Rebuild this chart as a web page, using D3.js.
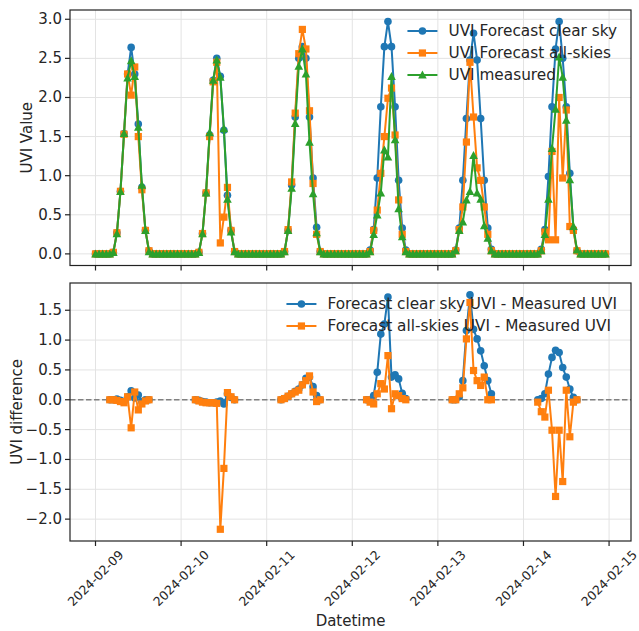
<html>
<head>
<style>
  body { margin: 0; background: #fff; }
  svg { display: block; font-family: "DejaVu Sans", sans-serif; }
</style>
</head>
<body>
<svg id="chart"></svg>
<script src="https://d3js.org/d3.v7.min.js"></script>
<script>
    // ---- data (hourly, UTC) ----
    var days = ["2024-02-09", "2024-02-10", "2024-02-11", "2024-02-12", "2024-02-13", "2024-02-14"];
    // daylight hours for the UVI panel, night values are 0
    var topHours = [4, 5, 6, 7, 8, 9, 10, 11, 12, 13, 14, 15, 16];
    var clearSky = [
        [0, 0.02, 0.27, 0.80, 1.54, 2.30, 2.64, 2.30, 1.66, 0.85, 0.30, 0.04, 0],
        [0, 0.02, 0.26, 0.78, 1.52, 2.22, 2.50, 2.27, 1.58, 0.75, 0.30, 0.03, 0],
        [0, 0.03, 0.30, 0.88, 1.75, 2.50, 2.65, 2.50, 1.75, 0.97, 0.34, 0.03, 0],
        [0, 0.05, 0.31, 0.97, 1.88, 2.65, 2.97, 2.65, 1.88, 0.94, 0.33, 0.05, 0],
        [0, 0.05, 0.33, 0.94, 1.73, 2.48, 2.82, 2.48, 1.73, 0.94, 0.33, 0.06, 0],
        [0, 0.06, 0.31, 0.99, 1.88, 2.62, 2.97, 2.50, 1.88, 1.03, 0.31, 0.04, 0]
    ];
    var allSkies = [
        [0, 0.02, 0.27, 0.80, 1.53, 2.30, 2.03, 2.39, 1.50, 0.82, 0.30, 0.04, 0],
        [0, 0.02, 0.26, 0.78, 1.50, 2.20, 2.45, 0.14, 0.47, 0.85, 0.30, 0.03, 0],
        [0, 0.03, 0.31, 0.92, 1.80, 2.56, 2.87, 2.62, 1.83, 0.90, 0.25, 0.03, 0],
        [0, 0.03, 0.30, 0.56, 1.03, 1.50, 1.99, 2.12, 1.52, 0.69, 0.25, 0.03, 0],
        [0, 0.04, 0.31, 0.60, 1.43, 2.45, 1.75, 1.10, 0.94, 0.60, 0.25, 0.04, 0],
        [0, 0.04, 0.28, 0.18, 1.31, 0.18, 2.00, 0.97, 1.84, 0.35, 0.30, 0.04, 0]
    ];
    var measured = [
        [0, 0.02, 0.26, 0.80, 1.54, 2.25, 2.47, 2.27, 1.62, 0.88, 0.30, 0.03, 0],
        [0, 0.02, 0.26, 0.78, 1.55, 2.22, 2.48, 2.26, 1.60, 0.70, 0.28, 0.03, 0],
        [0, 0.03, 0.30, 0.84, 1.67, 2.40, 2.62, 2.30, 1.43, 0.77, 0.27, 0.03, 0],
        [0, 0.03, 0.25, 0.50, 0.78, 1.33, 1.24, 2.27, 1.46, 0.58, 0.22, 0.03, 0],
        [0, 0.04, 0.30, 0.41, 0.69, 0.80, 1.26, 0.78, 0.70, 0.36, 0.20, 0.04, 0],
        [0, 0.04, 0.25, 0.70, 1.35, 1.85, 2.52, 2.26, 1.71, 0.95, 0.35, 0.05, 0]
    ];
    // difference panel only has daytime points
    var diffHours = [4, 5, 6, 7, 8, 9, 10, 11, 12, 13, 14, 15];
    var clearDiff = [
        [0, 0, 0.01, -0.01, -0.03, 0.05, 0.15, 0.03, 0.08, -0.03, 0, 0],
        [0, -0.01, -0.03, -0.04, -0.05, -0.05, -0.04, -0.02, -0.07, 0.10, 0.04, 0],
        [0, 0.02, 0.06, 0.10, 0.14, 0.18, 0.25, 0.36, 0.38, 0.22, 0.07, 0],
        [0, 0, 0.07, 0.46, 1.10, 1.27, 1.72, 0.38, 0.42, 0.35, 0.11, 0.02],
        [0, 0, 0.05, 0.32, 1.16, 1.76, 1.18, 1.02, 0.82, 0.57, 0.32, 0.10],
        [0, 0.02, 0.10, 0.43, 0.71, 0.83, 0.79, 0.54, 0.38, 0.18, 0.04, 0]
    ];
    var allDiff = [
        [0, 0, -0.01, -0.03, -0.05, 0.05, -0.47, 0.13, -0.17, -0.07, -0.02, 0],
        [0, -0.02, -0.04, -0.05, -0.05, -0.05, -0.06, -2.17, -1.15, 0.12, 0.05, 0],
        [0, 0.02, 0.06, 0.10, 0.13, 0.16, 0.25, 0.32, 0.40, 0.13, -0.03, 0],
        [0, -0.04, -0.07, 0.10, 0.27, 0.18, 0.74, -0.15, 0.10, 0.07, 0.02, 0],
        [0, 0, 0.10, 0.20, 1.02, 1.63, 0.49, 0.32, 0.24, 0.38, 0, 0],
        [-0.04, -0.20, -0.29, 0.16, -0.51, -1.62, -0.51, -1.37, 0.16, -0.62, -0.04, 0]
    ];
    var topTicks = [0, 0.5, 1.0, 1.5, 2.0, 2.5, 3.0];
    var bottomTicks = [-2.0, -1.5, -1.0, -0.5, 0, 0.5, 1.0, 1.5];

    var C = {blue: "#1f77b4", orange: "#ff7f0e", green: "#2ca02c"};

    var width = 639, height = 631;
    var left = 70, right = 631;
    var top1 = 10, bot1 = 265.5, top2 = 283, bot2 = 541;
    var fs = 15, fsLeg = 15.3, fsDate = 12.5;

    var svg = d3.select("#chart").attr("width", width).attr("height", height);

    function dayStart(i) {
        var p = days[i].split("-");
        return Date.UTC(+p[0], +p[1] - 1, +p[2]);
    }

    // full hourly series with zeros at night
    function hourly(rows) {
        var out = [];
        days.forEach(function(d, i) {
            for (var h = 0; h < 24; h++) {
                var k = topHours.indexOf(h);
                out.push({t: new Date(dayStart(i) + h * 3600e3), v: k < 0 ? 0 : rows[i][k]});
            }
        });
        return out;
    }
    // daytime-only series with gaps between days
    function daytime(rows) {
        var out = [];
        days.forEach(function(d, i) {
            diffHours.forEach(function(h, k) {
                out.push({t: new Date(dayStart(i) + h * 3600e3), v: rows[i][k]});
            });
            out.push({t: new Date(dayStart(i) + 23 * 3600e3), v: null});
        });
        return out;
    }

    var sClear = hourly(clearSky), sAll = hourly(allSkies), sMeas = hourly(measured);
    var dClear = daytime(clearDiff), dAll = daytime(allDiff);

    // matplotlib style 5% margins
    function pad(ext) { var m = (ext[1] - ext[0]) * 0.05; return [ext[0] - m, ext[1] + m]; }

    var tExt = d3.extent(sClear, function(d) { return d.t; });
    var tPad = pad([+tExt[0], +tExt[1]]);
    var x = d3.scaleUtc().domain([new Date(tPad[0]), new Date(tPad[1])]).range([left, right]);

    var topVals = sClear.concat(sAll, sMeas).map(function(d) { return d.v; });
    var y1 = d3.scaleLinear().domain(pad(d3.extent(topVals))).range([bot1, top1]);
    var botVals = dClear.concat(dAll).filter(function(d) { return d.v != null; }).map(function(d) { return d.v; });
    var y2 = d3.scaleLinear().domain(pad(d3.extent(botVals))).range([bot2, top2]);

    var xTicks = d3.utcDay.range(new Date(dayStart(0)), new Date(dayStart(5) + 2 * 864e5));
    var fmtTick = function(v) { return v < 0 ? "\u2212" + Math.abs(v).toFixed(1) : v.toFixed(1); };

    function drawAxes(y, yTicks, yt, yb, label, labelX) {
        var g = svg.append("g");
        // grid
        g.selectAll(".gx").data(xTicks).enter().append("line")
            .attr("x1", function(d) { return x(d); }).attr("x2", function(d) { return x(d); })
            .attr("y1", yt).attr("y2", yb)
            .attr("stroke", "#e3e3e3").attr("stroke-width", 1);
        g.selectAll(".gy").data(yTicks).enter().append("line")
            .attr("x1", left).attr("x2", right)
            .attr("y1", function(d) { return y(d); }).attr("y2", function(d) { return y(d); })
            .attr("stroke", "#e3e3e3").attr("stroke-width", 1);
        // ticks
        g.selectAll(".tx").data(xTicks).enter().append("line")
            .attr("x1", function(d) { return x(d); }).attr("x2", function(d) { return x(d); })
            .attr("y1", yb).attr("y2", yb + 5)
            .attr("stroke", "#222").attr("stroke-width", 1.2);
        g.selectAll(".ty").data(yTicks).enter().append("line")
            .attr("x1", left - 5).attr("x2", left)
            .attr("y1", function(d) { return y(d); }).attr("y2", function(d) { return y(d); })
            .attr("stroke", "#222").attr("stroke-width", 1.2);
        g.selectAll(".ly").data(yTicks).enter().append("text")
            .attr("x", left - 8).attr("y", function(d) { return y(d); })
            .attr("text-anchor", "end").attr("dominant-baseline", "central")
            .attr("font-size", fs).attr("fill", "#262626")
            .text(fmtTick);
        svg.append("text")
            .attr("transform", "translate(" + labelX + "," + ((yt + yb) / 2) + ") rotate(-90)")
            .attr("text-anchor", "middle").attr("dominant-baseline", "central")
            .attr("font-size", fs).attr("fill", "#262626")
            .text(label);
        return g;
    }

    function spines(yt, yb) {
        svg.append("rect").attr("x", left).attr("y", yt)
            .attr("width", right - left).attr("height", yb - yt)
            .attr("fill", "none").attr("stroke", "#222").attr("stroke-width", 1.2);
    }

    function marker(sel, shape, color) {
        if (shape === "o") {
            sel.append("circle").attr("r", 3.8).attr("fill", color);
        } else if (shape === "s") {
            sel.append("rect").attr("x", -3.6).attr("y", -3.6).attr("width", 7.2).attr("height", 7.2).attr("fill", color);
        } else {
            sel.append("path").attr("d", "M0,-4.4L4.3,3.6L-4.3,3.6Z").attr("fill", color);
        }
    }

    function series(y, data, color, shape) {
        var g = svg.append("g");
        var line = d3.line()
            .defined(function(d) { return d.v != null; })
            .x(function(d) { return x(d.t); })
            .y(function(d) { return y(d.v); });
        g.append("path").datum(data).attr("d", line)
            .attr("fill", "none").attr("stroke", color).attr("stroke-width", 2).attr("stroke-linejoin", "round");
        var pts = g.selectAll("g.m").data(data.filter(function(d) { return d.v != null; }))
            .enter().append("g")
            .attr("transform", function(d) { return "translate(" + x(d.t) + "," + y(d.v) + ")"; });
        marker(pts, shape, color);
    }

    function legend(items, yt) {
        var g = svg.append("g");
        var texts = items.map(function(it, i) {
            return g.append("text").attr("font-size", fsLeg).attr("fill", "#262626")
                .attr("dominant-baseline", "central").attr("y", yt + 21 + i * 22).text(it.label);
        });
        var w = d3.max(texts, function(t) { return t.node().getComputedTextLength(); });
        var tx = right - 14 - w;
        items.forEach(function(it, i) {
            var yy = yt + 21 + i * 22;
            texts[i].attr("x", tx);
            g.append("line").attr("x1", tx - 41).attr("x2", tx - 11).attr("y1", yy).attr("y2", yy)
                .attr("stroke", it.color).attr("stroke-width", 2);
            marker(g.append("g").attr("transform", "translate(" + (tx - 26) + "," + yy + ")"), it.shape, it.color);
        });
    }

    // ---- top panel ----
    drawAxes(y1, topTicks, top1, bot1, "UVI Value", 27);
    series(y1, sClear, C.blue, "o");
    series(y1, sAll, C.orange, "s");
    series(y1, sMeas, C.green, "^");
    spines(top1, bot1);
    legend([
        {label: "UVI Forecast clear sky", color: C.blue, shape: "o"},
        {label: "UVI Forecast all-skies", color: C.orange, shape: "s"},
        {label: "UVI measured", color: C.green, shape: "^"}
    ], top1);

    // ---- bottom panel ----
    drawAxes(y2, bottomTicks, top2, bot2, "UVI difference", 17);
    svg.append("line").attr("x1", left).attr("x2", right).attr("y1", y2(0)).attr("y2", y2(0))
        .attr("stroke", "#808080").attr("stroke-width", 1.5).attr("stroke-dasharray", "5.5,2.5");
    series(y2, dClear, C.blue, "o");
    series(y2, dAll, C.orange, "s");
    spines(top2, bot2);
    legend([
        {label: "Forecast clear sky UVI - Measured UVI", color: C.blue, shape: "o"},
        {label: "Forecast all-skies UVI - Measured UVI", color: C.orange, shape: "s"}
    ], top2);

    // rotated date labels, centred under the tick like matplotlib
    var fmtDate = d3.utcFormat("%Y-%m-%d");
    xTicks.forEach(function(t) {
        var g = svg.append("g");
        var tx = g.append("text").attr("font-size", fsDate).attr("fill", "#262626")
            .attr("text-anchor", "middle").attr("dominant-baseline", "central").text(fmtDate(t));
        var L = tx.node().getComputedTextLength();
        var half = (L + fsDate * 0.8) * Math.SQRT1_2 / 2;
        g.attr("transform", "translate(" + x(t) + "," + (bot2 + 8 + half) + ") rotate(-45)");
    });
    svg.append("text").attr("x", (left + right) / 2).attr("y", 621)
        .attr("text-anchor", "middle").attr("dominant-baseline", "central")
        .attr("font-size", fs).attr("fill", "#262626").text("Datetime");
</script>
</body>
</html>
